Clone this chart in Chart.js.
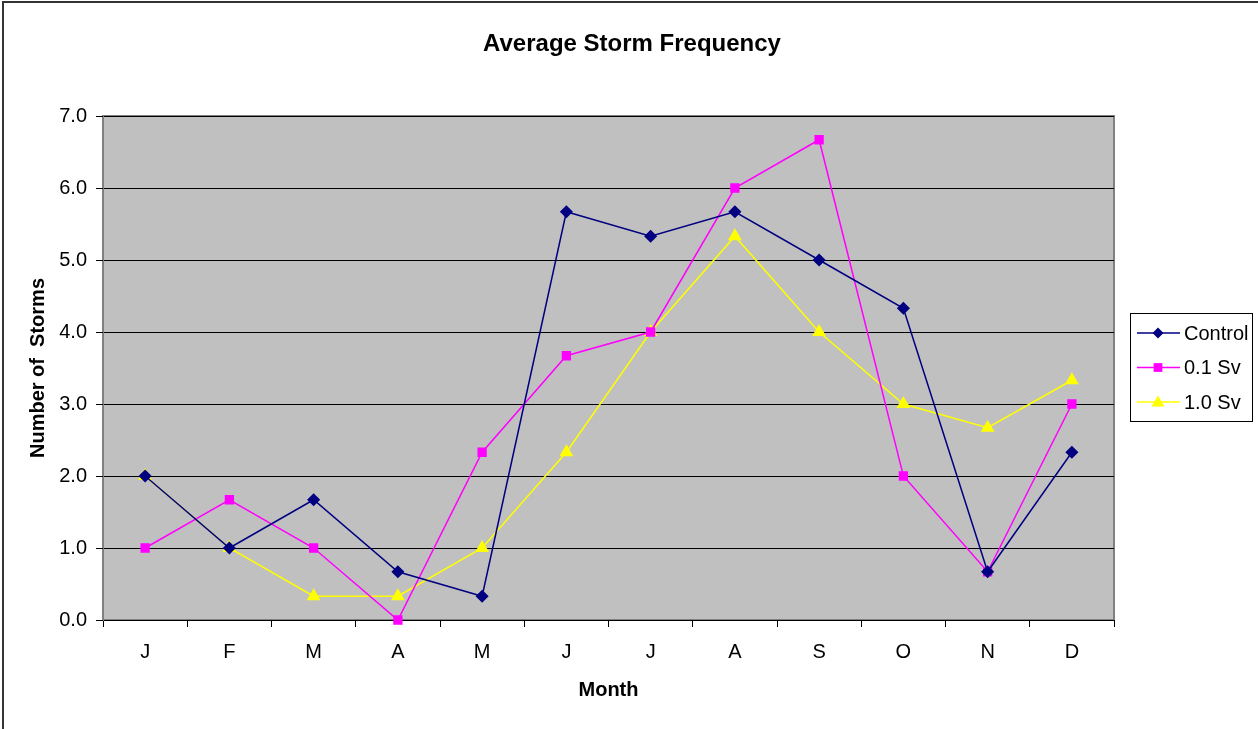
<!DOCTYPE html>
<html>
<head>
<meta charset="utf-8">
<title>Average Storm Frequency</title>
<script src="https://cdn.jsdelivr.net/npm/chart.js@4/dist/chart.umd.min.js"></script>
<style>
    html, body { margin: 0; padding: 0; background: #fff; overflow: hidden; }
    #wrap { position: relative; width: 1258px; height: 729px; }
    #frame {
        position: absolute; left: 2px; top: 1px; width: 1300px; height: 800px;
        border: 2px solid #333; box-sizing: border-box; pointer-events: none;
    }
    canvas { position: absolute; left: 0; top: 0; }
</style>
</head>
<body>
<div id="wrap">
    <canvas id="stormChart" width="1258" height="729"></canvas>
    <div id="frame"></div>
</div>
<script>
// Данные графика
const months = ['J', 'F', 'M', 'A', 'M', 'J', 'J', 'A', 'S', 'O', 'N', 'D'];
const controlValues = [2.0, 1.0, 1.67, 0.67, 0.33, 5.67, 5.33, 5.67, 5.0, 4.33, 0.67, 2.33];
const sv01Values = [1.0, 1.67, 1.0, 0.0, 2.33, 3.67, 4.0, 6.0, 6.67, 2.0, 0.67, 3.0];
const sv10Values = [2.0, 1.0, 0.33, 0.33, 1.0, 2.33, 4.0, 5.33, 4.0, 3.0, 2.67, 3.33];
const yTicks = [0, 1, 2, 3, 4, 5, 6, 7];
const chartTitle = 'Average Storm Frequency';

const FONT = "'Liberation Sans', Arial, sans-serif";

// Серый фон области построения
const plotBackground = {
    id: 'plotBackground',
    beforeDraw(chart) {
        const { ctx, chartArea: a } = chart;
        ctx.save();
        ctx.fillStyle = '#C0C0C0';
        ctx.fillRect(a.left, a.top, a.right - a.left, a.bottom - a.top);
        ctx.strokeStyle = '#808080';
        ctx.lineWidth = 2;
        ctx.strokeRect(a.left, a.top, a.right - a.left, a.bottom - a.top);
        ctx.restore();
    }
};

// Заголовок по центру всего рисунка
const centeredTitle = {
    id: 'centeredTitle',
    afterDraw(chart) {
        const ctx = chart.ctx;
        ctx.save();
        ctx.font = 'bold 24px ' + FONT;
        ctx.fillStyle = '#000';
        ctx.textAlign = 'center';
        ctx.textBaseline = 'middle';
        ctx.fillText(chartTitle, 632, 44);
        ctx.restore();
    }
};

function drawMarker(ctx, style, x, y, r, color) {
    ctx.fillStyle = color;
    ctx.beginPath();
    if (style === 'rectRot') {
        ctx.moveTo(x, y - r); ctx.lineTo(x + r, y); ctx.lineTo(x, y + r); ctx.lineTo(x - r, y);
    } else if (style === 'rect') {
        ctx.rect(x - r * 0.8, y - r * 0.8, r * 1.6, r * 1.6);
    } else {
        ctx.moveTo(x, y - r); ctx.lineTo(x + r, y + r * 0.7); ctx.lineTo(x - r, y + r * 0.7);
    }
    ctx.closePath();
    ctx.fill();
}

// Легенда справа в рамке
const boxLegend = {
    id: 'boxLegend',
    afterDraw(chart) {
        const ctx = chart.ctx;
        const x0 = 1130, y0 = 313, w = 122, h = 108;
        ctx.save();
        ctx.fillStyle = '#fff';
        ctx.fillRect(x0, y0, w, h);
        ctx.strokeStyle = '#000';
        ctx.lineWidth = 1;
        ctx.strokeRect(x0 + 0.5, y0 + 0.5, w, h);
        ctx.font = '20px ' + FONT;
        ctx.textBaseline = 'middle';
        chart.data.datasets.forEach((ds, i) => {
            const y = y0 + 20 + i * 34.5;
            ctx.strokeStyle = ds.borderColor;
            ctx.lineWidth = 1.5;
            ctx.beginPath();
            ctx.moveTo(x0 + 7, y);
            ctx.lineTo(x0 + 50, y);
            ctx.stroke();
            drawMarker(ctx, ds.pointStyle, x0 + 28, y, ds.pointRadius, ds.borderColor);
            ctx.fillStyle = '#000';
            ctx.fillText(ds.label, x0 + 54, y + 1);
        });
        ctx.restore();
    }
};

new Chart(document.getElementById('stormChart'), {
    type: 'line',
    data: {
        labels: months,
        datasets: [
            { label: 'Control', data: controlValues, borderColor: '#000080', backgroundColor: '#000080',
              pointStyle: 'rectRot', pointRadius: 5.5, borderWidth: 1.5 },
            { label: '0.1 Sv', data: sv01Values, borderColor: '#FF00FF', backgroundColor: '#FF00FF',
              pointStyle: 'rect', pointRadius: 5.5, borderWidth: 1.5 },
            { label: '1.0 Sv', data: sv10Values, borderColor: '#FFFF00', backgroundColor: '#FFFF00',
              pointStyle: 'triangle', pointRadius: 6.5, borderWidth: 1.5 }
        ]
    },
    options: {
        responsive: false,
        animation: false,
        clip: false,
        layout: { padding: { left: 10, right: 144, top: 116, bottom: 0 } },
        plugins: {
            legend: { display: false },
            tooltip: { enabled: false },
            title: { display: false }
        },
        scales: {
            x: {
                offset: true,
                afterFit(scale) { scale.height = 109; },
                grid: { offset: true, drawOnChartArea: false, color: '#000', tickLength: 7, tickWidth: 1 },
                border: { display: true, color: '#000', width: 1 },
                ticks: { color: '#000', font: { family: FONT, size: 20 }, padding: 13, maxRotation: 0, autoSkip: false },
                title: {
                    display: true, text: 'Month', color: '#000',
                    font: { family: FONT, size: 20, weight: 'bold' },
                    padding: { top: 0, bottom: 27 }
                }
            },
            y: {
                min: 0,
                max: 7,
                afterFit(scale) { scale.width = 93; },
                afterBuildTicks(scale) { scale.ticks = yTicks.map(v => ({ value: v })); },
                grid: { color: '#000', lineWidth: 1, tickLength: 7 },
                border: { display: true, color: '#808080', width: 1 },
                ticks: {
                    color: '#000', font: { family: FONT, size: 20 }, padding: 9,
                    callback: v => Number(v).toFixed(1)
                },
                title: {
                    display: true, text: 'Number of  Storms', color: '#000',
                    font: { family: FONT, size: 20, weight: 'bold' },
                    padding: { top: 16, bottom: 0 }
                }
            }
        }
    },
    plugins: [plotBackground, boxLegend, centeredTitle]
});
</script>
</body>
</html>
